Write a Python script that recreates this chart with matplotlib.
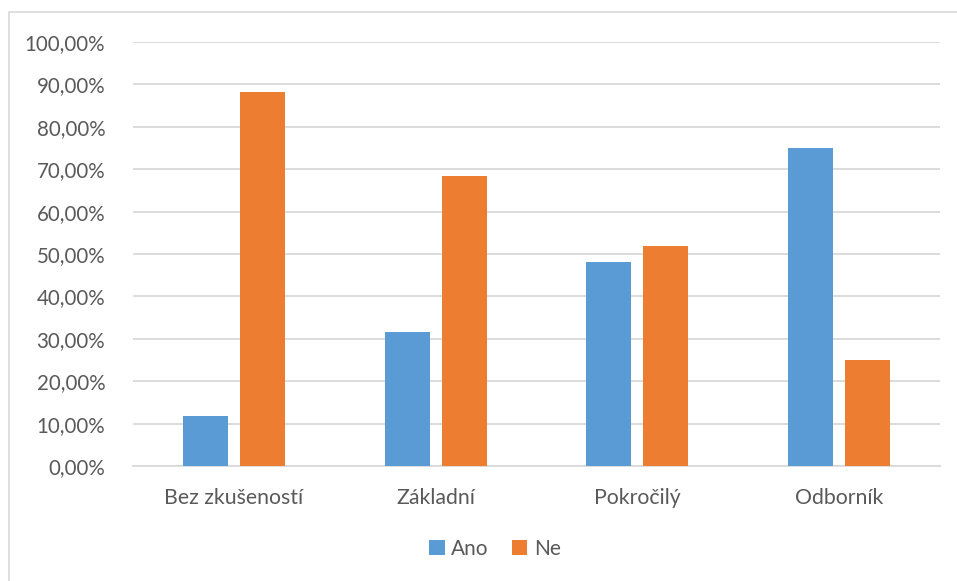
import numpy as np
import matplotlib.pyplot as plt
from matplotlib.patches import Rectangle
from matplotlib.ticker import FuncFormatter

categories = ['Bez zkušeností', 'Základní', 'Pokročilý', 'Odborník']
ano = [11.76, 31.71, 48.15, 75.00]
ne = [88.24, 68.29, 51.85, 25.00]
series_names = ['Ano', 'Ne']

blue = '#5b9bd5'
orange = '#ed7d31'
text_color = '#595959'
grid_color = '#d9d9d9'

plt.rcParams['font.family'] = ['Lato', 'DejaVu Sans']

fig = plt.figure(figsize=(9.57, 5.81), dpi=100)
ax = fig.add_axes([133 / 957, 1 - 466 / 581, 807 / 957, 424 / 581])

# outer chart frame (runs off the right and bottom edges)
fig.patches.append(Rectangle((9 / 957, -0.1), 1.2, 1.1 - 12 / 581,
                             transform=fig.transFigure, fill=False,
                             edgecolor=grid_color, linewidth=1.2))

x = np.arange(len(categories))
w = 0.223
gap = 0.06
ax.bar(x - (w + gap) / 2, ano, width=w, color=blue, label=series_names[0], zorder=3)
ax.bar(x + (w + gap) / 2, ne, width=w, color=orange, label=series_names[1], zorder=3)

ax.set_xlim(-0.5, len(categories) - 0.5)
ax.set_ylim(0, 100)
ax.set_yticks(np.arange(0, 101, 10))
ax.yaxis.set_major_formatter(FuncFormatter(lambda v, p: f'{v:.2f}'.replace('.', ',') + '%'))
ax.set_xticks(x)
ax.set_xticklabels(categories)

ax.grid(axis='y', color=grid_color, linewidth=1.3, zorder=0)
for s in ['top', 'right', 'left']:
    ax.spines[s].set_visible(False)
ax.spines['bottom'].set_color(grid_color)
ax.spines['bottom'].set_linewidth(1.3)
ax.tick_params(axis='both', length=0, colors=text_color)
ax.tick_params(axis='y', pad=20, labelsize=14.8)
ax.tick_params(axis='x', pad=16, labelsize=15.3)

ax.legend(loc='center', bbox_to_anchor=(495 / 957, 1 - 549 / 581),
          bbox_transform=fig.transFigure, ncol=2, frameon=False,
          fontsize=15, labelcolor=text_color, handlelength=0.75, handleheight=0.75,
          handletextpad=0.3, columnspacing=1.1)

fig.savefig('out.png', dpi=100)
